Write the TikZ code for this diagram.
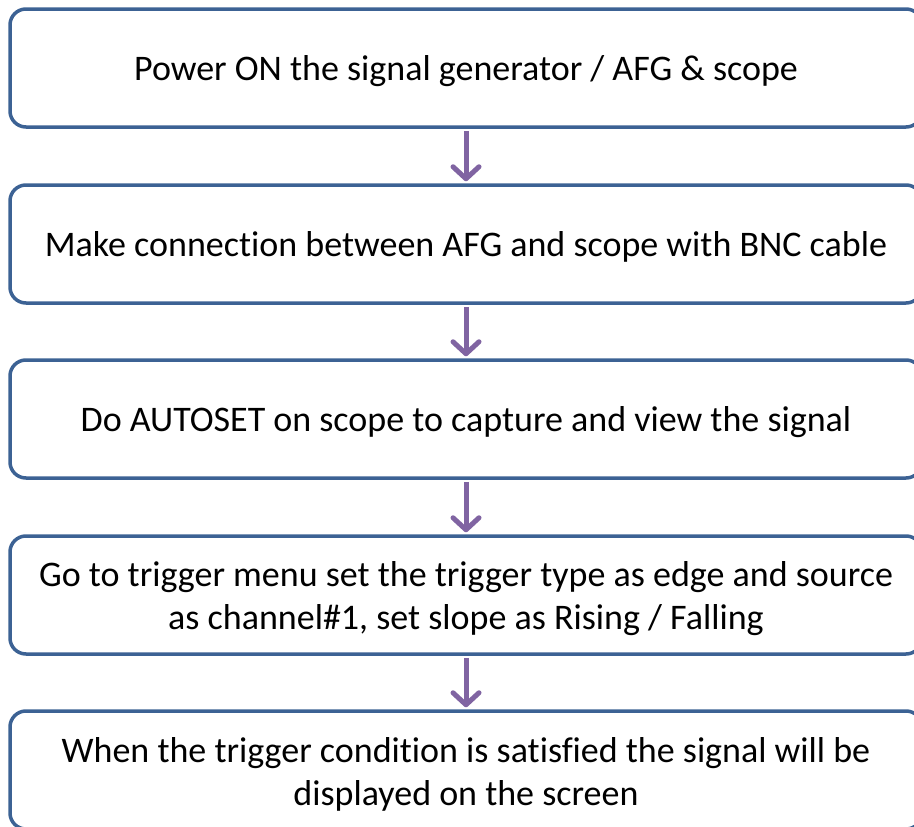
\documentclass[tikz,border=0pt]{standalone}
\usepackage{fontspec}
\setmainfont[Ligatures={NoCommon}]{Carlito}
\usetikzlibrary{arrows.meta}
\definecolor{boxline}{RGB}{60,98,148}
\definecolor{arrowc}{RGB}{128,100,162}
\tikzset{
  stepbox/.style={draw=boxline, line width=3.5pt, rounded corners=16pt, fill=white,
    minimum width=912pt, minimum height=118pt, inner sep=0pt},
  steptext/.style={align=center, inner sep=0pt,
    font=\fontsize{36pt}{43pt}\selectfont, text=black},
  flowarrow/.style={draw=arrowc, line width=5pt,
    -{Straight Barb[length=12pt,width=26pt,line cap=round,line join=round]}}
}
\begin{document}
\begin{tikzpicture}[x=1pt,y=1pt]
\useasboundingbox (0,0) rectangle (914,-827);
\node[stepbox] (b1) at (466,-68) {};
\node[stepbox] (b2) at (466,-244) {};
\node[stepbox] (b3) at (466,-419) {};
\node[stepbox] (b4) at (466,-595) {};
\node[stepbox] (b5) at (466,-770) {};
\node[steptext] (t1) at ([yshift=-3pt]b1.center) {Power ON the signal generator / AFG \& scope};
\node[steptext] (t2) at ([yshift=-3pt]b2.center) {Make connection between AFG and scope with BNC cable};
\node[steptext] (t3) at ([yshift=-3pt]b3.center) {Do AUTOSET on scope to capture and view the signal};
\node[steptext] (t4) at ([yshift=-4pt]b4.center) {Go to trigger menu set the trigger type as edge and source\\as channel\#1, set slope as Rising / Falling};
\node[steptext] (t5) at ([yshift=-4pt]b5.center) {When the trigger condition is satisfied the signal will be\\displayed on the screen};
\draw[flowarrow] ([yshift=-2pt]b1.south) -- ([yshift=2pt]b2.north);
\draw[flowarrow] ([yshift=-2pt]b2.south) -- ([yshift=2pt]b3.north);
\draw[flowarrow] ([yshift=-2pt]b3.south) -- ([yshift=2pt]b4.north);
\draw[flowarrow] ([yshift=-2pt]b4.south) -- ([yshift=2pt]b5.north);
\end{tikzpicture}
\end{document}
